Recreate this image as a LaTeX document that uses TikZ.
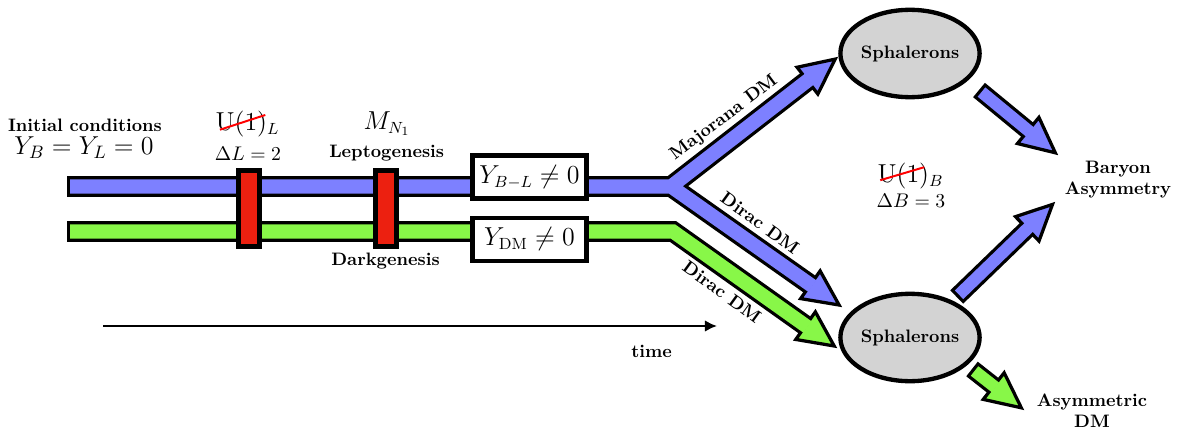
\documentclass[tikz,border=0pt]{standalone}
\usetikzlibrary{calc,shapes.geometric,arrows.meta}

\definecolor{barblue}{RGB}{125,128,255}
\definecolor{bargreen}{RGB}{136,247,72}
\definecolor{barred}{RGB}{236,32,16}
\definecolor{sphgray}{RGB}{211,211,211}

\tikzset{
  txt/.style={inner sep=0pt},
  lbl/.style={inner sep=0pt, font=\bfseries},
  boxnode/.style={draw, line width=2.6pt, fill=white, inner sep=0pt,
    minimum width=63.4pt, minimum height=24pt, font=\fontsize{13.3}{16}\selectfont},
  redbar/.style={draw, line width=2.6pt, fill=barred, inner sep=0pt,
    minimum width=11.8pt, minimum height=42.3pt},
  sph/.style={ellipse, draw, line width=2.4pt, fill=sphgray, inner sep=0pt,
    minimum width=69.5pt, minimum height=48.5pt, font=\bfseries},
  strike/.style={red, line width=1.1pt}
}

% arrow head: colour, centre of its base, tip
\newcommand{\fathead}[3]{%
  \filldraw[fill=#1, draw=black, line width=1.8pt]
    ($(#2)!9.4pt!90:(#3)$) -- (#3) -- ($(#2)!9.4pt!-90:(#3)$) -- cycle;}

% fat arrow: colour, tail, tip
\newcommand{\fatarrow}[3]{%
  \coordinate (fa) at ($(#3)!19.5pt!(#2)$);
  \draw[line width=10.3pt] (#2) -- (fa);
  \fathead{#1}{fa}{#3}
  \draw[#1, line width=6.7pt] ($(#2)!1.8pt!(#3)$) -- ($(fa)!1.3pt!(#3)$);}

\begin{document}
\begin{tikzpicture}[x=0.555pt, y=-0.555pt]
  \useasboundingbox (0,0) rectangle (1183,432);

  % points of the two bars
  \coordinate (bstart) at (67,186.5);
  \coordinate (gstart) at (67,231.5);
  \coordinate (fork) at (671,186.5);
  \coordinate (bend) at (673,231.5);
  \coordinate (majtip) at (835.2,59.1);
  \coordinate (dirtip) at (839.1,305);
  \coordinate (grntip) at (834.2,346);
  \coordinate (majbase) at ($(majtip)!19.5pt!(fork)$);
  \coordinate (dirbase) at ($(dirtip)!19.5pt!(fork)$);
  \coordinate (grnbase) at ($(grntip)!19.5pt!(bend)$);

  % bars, black outline
  \draw[line width=11.4pt] (bstart) -- (fork) -- (majbase) (fork) -- (dirbase);
  \draw[line width=11.4pt] (gstart) -- (bend) -- (grnbase);

  % arrow heads
  \fathead{barblue}{majbase}{majtip}
  \fathead{barblue}{dirbase}{dirtip}
  \fathead{bargreen}{grnbase}{grntip}

  % bars, filling
  \draw[barblue, line width=7.8pt] ($(bstart)+(3.2,0)$) -- (fork)
    -- ($(majbase)!1.3pt!(majtip)$) (fork) -- ($(dirbase)!1.3pt!(dirtip)$);
  \draw[bargreen, line width=7.8pt] ($(gstart)+(3.2,0)$) -- (bend)
    -- ($(grnbase)!1.3pt!(grntip)$);

  % breaking of the symmetries
  \node[redbar] (lbar) at (249,208.5) {};
  \node[redbar] (mbar) at (386,208.5) {};

  % asymmetries
  \node[boxnode] (ybl) at (529.5,177) {$Y_{B-L}\neq 0$};
  \node[boxnode] (ydm) at (529.5,239.5) {$Y_{\mathrm{DM}}\neq 0$};

  % texts on the left
  \node[lbl, anchor=base] (init) at (85,131.7) {Initial conditions};
  \node[txt, anchor=base, font=\Large] (yinit) at (84,154.3) {$Y_B=Y_L=0$};
  \node[txt, anchor=base, font=\fontsize{13.5}{16}\selectfont] (u1l) at (247.5,131) {$\mathrm{U}(1)_L$};
  \draw[strike] ($(u1l.base west)+(4.7,-1.3)$) -- ($(u1l.base west)+(50,-16)$);
  \node[txt, anchor=base, font=\fontsize{11}{13}\selectfont] (dl) at (248,160) {$\Delta L=2$};
  \node[txt, anchor=base, font=\fontsize{13.5}{16}\selectfont] (mn1) at (387,129.3) {$M_{N_1}$};
  \node[lbl, anchor=base] (lepto) at (386.7,157.3) {Leptogenesis};
  \node[lbl, anchor=base] (dark) at (385.5,265) {Darkgenesis};

  % labels of the branches
  \node[lbl, rotate=37] (majlbl) at (724,118) {Majorana DM};
  \node[lbl, rotate=-36] (dirlbl) at (760,223) {Dirac DM};
  \node[lbl, rotate=-36] (dirlbl2) at (722,292) {Dirac DM};

  % time
  \coordinate (tstart) at (103,326);
  \coordinate (tend) at (717,326);
  \draw[-{Latex[length=6.7pt,width=6.5pt]}, line width=1.3pt] (tstart) -- (tend);
  \node[lbl, anchor=base] (timelbl) at (651.7,357.3) {time};

  % sphalerons
  \node[sph] (sphup) at (910,53.5) {Sphalerons};
  \node[sph] (sphlo) at (910,337.5) {Sphalerons};
  \node[txt, anchor=base, font=\fontsize{13.5}{16}\selectfont] (u1b) at (910.5,182.7) {$\mathrm{U}(1)_B$};
  \draw[strike] ($(u1b.base west)+(3,-2.5)$) -- ($(u1b.base west)+(47,-15.5)$);
  \node[txt, anchor=base, font=\fontsize{11}{13}\selectfont] (db) at (911,207.3) {$\Delta B=3$};

  % results
  \node[lbl, align=center] (baryon) at (1118,179.5) {Baryon\\Asymmetry};
  \node[lbl, align=center] (asymdm) at (1092,410.6) {Asymmetric\\DM};

  \coordinate (uptail) at (979,90);
  \coordinate (uptip) at (1055.3,152.8);
  \coordinate (lotail) at (956.7,297);
  \coordinate (lotip) at (1052.5,204.4);
  \coordinate (dmtail) at (972,369);
  \coordinate (dmtip) at (1021.3,407.8);
  \fatarrow{barblue}{uptail}{uptip}
  \fatarrow{barblue}{lotail}{lotip}
  \fatarrow{bargreen}{dmtail}{dmtip}

\end{tikzpicture}
\end{document}
